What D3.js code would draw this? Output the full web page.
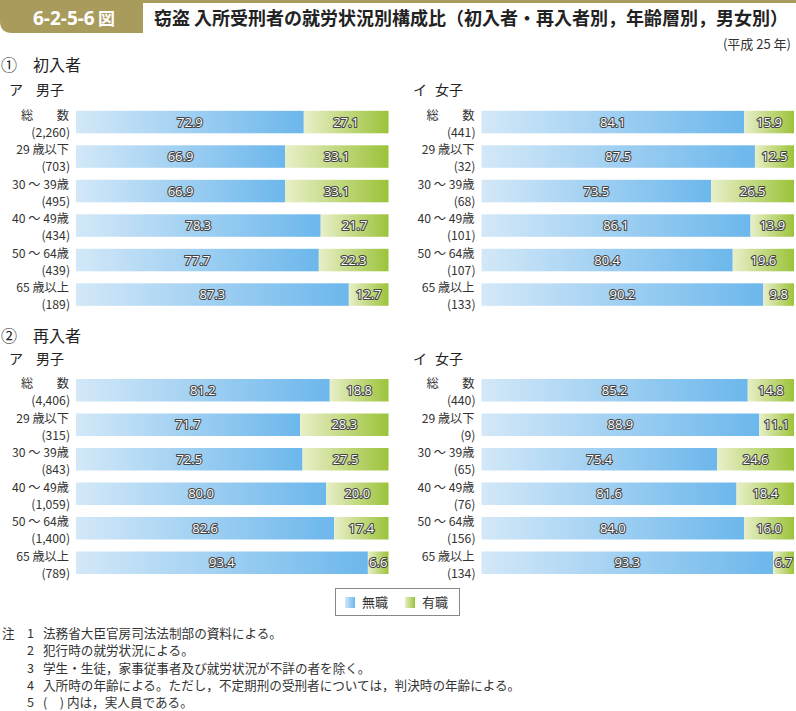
<!DOCTYPE html>
<html><head><meta charset="utf-8">
<script src="https://cdn.jsdelivr.net/npm/d3@7"></script>
<style>
body{margin:0;background:#fff;}
svg{display:block;font-family:"Noto Sans CJK JP","Noto Sans",sans-serif;}
</style></head>
<body>
<svg id="c" width="796" height="711"></svg>
<script>
const ageCats = ["総数","29 歳以下","30 ～ 39歳","40 ～ 49歳","50 ～ 64歳","65 歳以上"];
const firstMaleN = ["2,260","703","495","434","439","189"];
const firstMaleUnemp = [72.9,66.9,66.9,78.3,77.7,87.3];
const firstMaleEmp = [27.1,33.1,33.1,21.7,22.3,12.7];
const firstFemaleN = ["441","32","68","101","107","133"];
const firstFemaleUnemp = [84.1,87.5,73.5,86.1,80.4,90.2];
const firstFemaleEmp = [15.9,12.5,26.5,13.9,19.6,9.8];
const reMaleN = ["4,406","315","843","1,059","1,400","789"];
const reMaleUnemp = [81.2,71.7,72.5,80.0,82.6,93.4];
const reMaleEmp = [18.8,28.3,27.5,20.0,17.4,6.6];
const reFemaleN = ["440","9","65","76","156","134"];
const reFemaleUnemp = [85.2,88.9,75.4,81.6,84.0,93.3];
const reFemaleEmp = [14.8,11.1,24.6,18.4,16.0,6.7];
const seriesNames = ["無職","有職"];
const notes = ["法務省大臣官房司法法制部の資料による。","犯行時の就労状況による。","学生・生徒，家事従事者及び就労状況が不詳の者を除く。","入所時の年齢による。ただし，不定期刑の受刑者については，判決時の年齢による。","(　) 内は，実人員である。"];

const svg = d3.select("#c");
const defs = svg.append("defs");
function grad(id, c0, c1){
  const g = defs.append("linearGradient").attr("id",id).attr("x1","0").attr("x2","1").attr("y1","0").attr("y2","0");
  g.append("stop").attr("offset","0").attr("stop-color",c0);
  g.append("stop").attr("offset","1").attr("stop-color",c1);
}
grad("gBlue","#d3e8f8","#6cb7ec");
grad("gGreen","#e8efc8","#9cc33a");
const gold = "#a99b5c";

// header
svg.append("path").attr("d","M0,0 H143 V33 H12 Q0,33 0,21 Z").attr("fill",gold);
svg.append("rect").attr("x",143).attr("y",0).attr("width",653).attr("height",3).attr("fill",gold);
svg.append("text").attr("x",33).attr("y",25).attr("fill","#fff").attr("font-size",19).attr("font-weight","bold").attr("font-family","'Noto Sans','Noto Sans CJK JP',sans-serif").text("6-2-5-6");
svg.append("text").attr("x",98).attr("y",25).attr("fill","#fff").attr("font-size",17).attr("font-weight","bold").text("図");
svg.append("text").attr("x",154).attr("y",25).attr("fill","#222").attr("font-size",18).attr("font-weight","bold")
  .text("窃盗 入所受刑者の就労状況別構成比（初入者・再入者別，年齢層別，男女別）");
svg.append("text").attr("x",791).attr("y",49).attr("text-anchor","end").attr("font-size",13).attr("fill","#333").text("(平成 25 年)");

function heading(x, y, a, b, size, gap){
  svg.append("text").attr("x",x).attr("y",y).attr("font-size",size).attr("fill","#222").text(a);
  svg.append("text").attr("x",x+gap).attr("y",y).attr("font-size",size).attr("fill","#222").text(b);
}
heading(1,71,"①","初入者",16,32);
heading(9,95,"ア","男子",14,27);
heading(413,95,"イ","女子",14,22);
heading(1,342,"②","再入者",16,32);
heading(9,364,"ア","男子",14,27);
heading(413,364,"イ","女子",14,22);

function panel(x0, x1, yr, unemp, emp, ns){
  const x = d3.scaleLinear().domain([0,100]).range([x0,x1]);
  const y = d3.scaleBand().domain(ageCats).range(yr).paddingInner(0.348).paddingOuter(0);
  const g = svg.append("g");
  const rows = ageCats.map((c,i)=>({c, u:unemp[i], e:emp[i], n:ns[i]}));
  const r = g.selectAll("g.row").data(rows).join("g");
  r.append("rect").attr("x",d=>x(0)).attr("y",d=>y(d.c)).attr("width",d=>x(d.u)-x(0)).attr("height",y.bandwidth()).attr("fill","url(#gBlue)");
  r.append("rect").attr("x",d=>x(d.u)).attr("y",d=>y(d.c)).attr("width",d=>x(100)-x(d.u)).attr("height",y.bandwidth()).attr("fill","url(#gGreen)");
  const lab = (sel, xf, t)=> sel.append("text").attr("x",xf).attr("y",d=>y(d.c)+y.bandwidth()/2+4.7)
    .attr("text-anchor","middle").attr("font-size",13).attr("font-family","'Open Sans','Noto Sans',sans-serif")
    .attr("fill","#fff").attr("stroke","#444").attr("stroke-width",2.2).attr("paint-order","stroke").attr("stroke-linejoin","round").text(t);
  lab(r, d=>(x(0)+x(d.u))/2, d=>d.u.toFixed(1));
  lab(r, d=>(x(d.u)+x(100))/2, d=>d.e.toFixed(1));
  const lx = x0 - 7;
  r.each(function(d){
    const s = d3.select(this);
    const yb = y(d.c);
    if(d.c === "総数"){
      s.append("text").attr("x",lx-48).attr("y",yb+9).attr("font-size",12.2).attr("fill","#333").text("総");
      s.append("text").attr("x",lx).attr("y",yb+9).attr("text-anchor","end").attr("font-size",12.2).attr("fill","#333").text("数");
    } else {
      s.append("text").attr("x",lx).attr("y",yb+9).attr("text-anchor","end").attr("font-size",12.2).attr("fill","#333").text(d.c);
    }
    s.append("text").attr("x",lx+1).attr("y",yb+26).attr("text-anchor","end").attr("font-size",12.2).attr("fill","#333").text("(" + d.n + ")");
  });
}
panel(76, 388.5, [110.8,305.8], firstMaleUnemp, firstMaleEmp, firstMaleN);
panel(481.5, 794, [110.8,305.8], firstFemaleUnemp, firstFemaleEmp, firstFemaleN);
panel(76, 388.5, [379,574], reMaleUnemp, reMaleEmp, reMaleN);
panel(481.5, 794, [379,574], reFemaleUnemp, reFemaleEmp, reFemaleN);

// legend
const lg = svg.append("g");
lg.append("rect").attr("x",335.5).attr("y",588.5).attr("width",124).attr("height",27).attr("fill","#fff").attr("stroke","#888").attr("stroke-width",1);
const lc = ["url(#gBlue)","url(#gGreen)"];
seriesNames.forEach((nm,i)=>{
  const bx = 345 + i*60;
  lg.append("rect").attr("x",bx).attr("y",597).attr("width",10).attr("height",11).attr("fill",lc[i]);
  lg.append("text").attr("x",bx+17).attr("y",607).attr("font-size",13).attr("fill","#333").text(nm);
});

// notes
const fs = 12.6;
svg.append("text").attr("x",2).attr("y",638).attr("font-size",fs).attr("fill","#333").text("注");
notes.forEach((t,i)=>{
  const yy = 638 + i*17.3;
  svg.append("text").attr("x",27).attr("y",yy).attr("font-size",fs).attr("fill","#333").text(i+1);
  svg.append("text").attr("x",43).attr("y",yy).attr("font-size",fs).attr("fill","#333").text(t);
});
</script>
</body></html>
